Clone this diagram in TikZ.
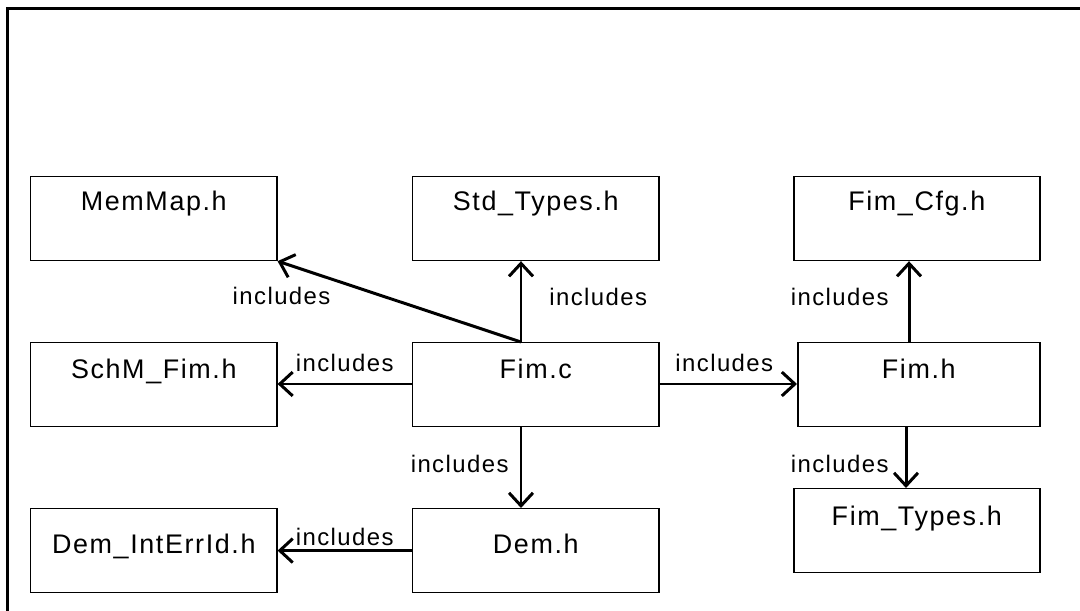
\documentclass[tikz,border=0pt]{standalone}
\usepackage{fontspec}
\usetikzlibrary{arrows.meta,calc}
\newfontfamily\diafont[LetterSpace=6]{Liberation Sans}
\tikzset{
  frame/.style={line width=2.5pt},
  filebox/.style={draw, line width=1.5pt, inner sep=0pt, minimum width=247, anchor=north west,
    font=\diafont\fontsize{27}{30}\selectfont, text depth=84-#1, text height=#1},
  filebox/.default=34,
  arr/.style={line width=3pt, -{Straight Barb[length=13pt,width=24pt]}},
  lbl/.style={font=\diafont\fontsize{24}{27}\selectfont, inner sep=0pt}
}
\begin{document}
\begin{tikzpicture}[x=1bp,y=-1bp]
\useasboundingbox (0,0) rectangle (1080,611);
\draw[frame] (7.5,611) -- (7.5,8.5) -- (1080,8.5);
% boxes
\node[filebox=34] (memmap) at (30,176) {MemMap.h};
\node[filebox=34] (stdt) at (412,176) {Std\_Types.h};
\node[filebox=34] (fimcfg) at (793,176) {Fim\_Cfg.h};
\node[filebox=36] (schm) at (30,342) {SchM\_Fim.h};
\node[filebox=36] (fimc) at (412,342) {Fim.c};
\node[filebox=36, minimum width=243] (fimh) at (797,342) {Fim.h};
\node[filebox=45] (demerr) at (30,508) {Dem\_IntErrId.h};
\node[filebox=45] (dem) at (412,508) {Dem.h};
\node[filebox=37] (fimtypes) at (793,488) {Fim\_Types.h};
% connectors
\draw[arr] ($(fimc.north west)+(109,0)$) -- node[lbl, anchor=west, xshift=27, yshift=5] {includes} ($(stdt.south west)+(109,0)$);
\draw[arr] ($(fimc.north west)+(109,0)$) -- node[lbl, pos=1, xshift=4, yshift=-35] {includes} (memmap.south east);
\draw[arr] (fimc.west |- 0,384) -- node[lbl, yshift=21] {includes} (schm.east |- 0,384);
\draw[arr] (fimc.east |- 0,384) -- node[lbl, yshift=21, xshift=-4] {includes} (fimh.west |- 0,384);
\draw[arr] ($(fimc.south west)+(109,0)$) -- node[lbl, anchor=east, xshift=-11, yshift=4] {includes} ($(dem.north west)+(109,0)$);
\draw[arr] (dem.west) -- node[lbl, yshift=14] {includes} (demerr.east);
\draw[arr] ($(fimh.north west)+(112,0)$) -- node[lbl, anchor=east, xshift=-19, yshift=5] {includes} ($(fimcfg.south west)+(116,0)$);
\draw[arr] ($(fimh.south west)+(109,0)$) -- node[lbl, anchor=east, xshift=-16, yshift=-6] {includes} ($(fimtypes.north west)+(113,0)$);
\end{tikzpicture}
\end{document}
